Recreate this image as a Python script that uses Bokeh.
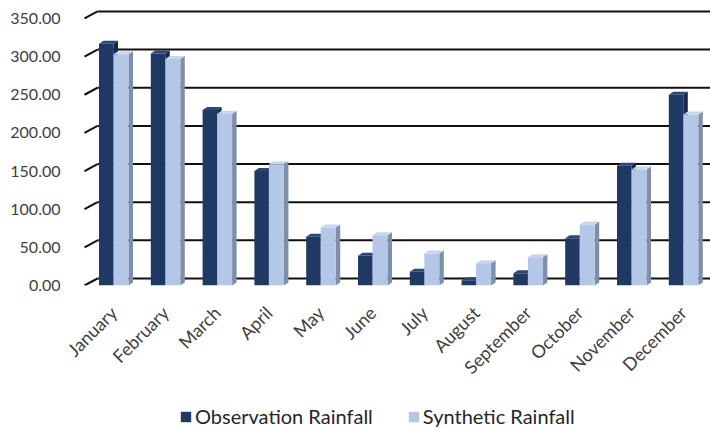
import math
from bokeh.plotting import figure
from bokeh.layouts import column
from bokeh.models import (Range1d, FixedTicker, ColumnDataSource, Legend,
                          LegendItem, NumeralTickFormatter)
from bokeh.embed import file_html
from bokeh.resources import INLINE

# ---------------- data ----------------
months = ["January", "February", "March", "April", "May", "June", "July",
          "August", "September", "October", "November", "December"]
observation = [317, 304, 230, 150, 64, 39, 18, 7, 16, 62, 157, 250]
synthetic = [303, 297, 225, 159, 76, 66, 42, 29, 37, 80, 152, 224]
y_ticks = [0, 50, 100, 150, 200, 250, 300, 350]
series_names = ["Observation Rainfall", "Synthetic Rainfall"]

# ---------------- geometry ----------------
W = 710
LEG_H = 26
H = 428 - LEG_H
LEFT = 83
FRAME_BOTTOM = 285
BOTTOM = H - FRAME_BOTTOM
frame_w = W - LEFT
frame_h = FRAME_BOTTOM
px_x = 51.8          # pixels per category
px_y = 0.763         # pixels per value unit
x_start = -30.0 / px_x
x_end = x_start + frame_w / px_x
y_end = frame_h / px_y

back_dx = 14.0 / px_x      # depth offset of back wall
back_dy = 7.0 / px_y
bar_w_obs = 14.5 / px_x
bar_w_syn = 15.0 / px_x
d_dx = 4.5 / px_x          # bar depth
d_dy = 3.0 / px_y

OBS_FRONT, OBS_TOP, OBS_SIDE = "#1f3864", "#2b4677", "#15284b"
SYN_FRONT, SYN_TOP, SYN_SIDE = "#b4c7e7", "#c9d7ee", "#7f8fa9"
FONT = "Lato"
TXT = "#404040"

p = figure(width=W, height=H, x_range=Range1d(x_start, x_end),
           y_range=Range1d(0, y_end), output_backend="svg",
           toolbar_location=None, min_border_left=LEFT, min_border_right=0,
           min_border_top=0, min_border_bottom=BOTTOM)
p.outline_line_color = None
p.grid.visible = False

# y axis
ya = p.yaxis[0]
ya.ticker = FixedTicker(ticks=y_ticks)
ya.formatter = NumeralTickFormatter(format="0.00")
ya.axis_line_color = None
ya.major_tick_line_color = None
ya.minor_tick_line_color = None
ya.major_label_standoff = 17
ya.major_label_text_font = FONT
ya.major_label_text_font_size = "16px"
ya.major_label_text_color = TXT

# x axis
xa = p.xaxis[0]
xa.ticker = FixedTicker(ticks=list(range(len(months))))
xa.major_label_overrides = {i: m for i, m in enumerate(months)}
xa.major_label_orientation = math.pi / 4
xa.axis_line_color = None
xa.major_tick_line_color = None
xa.minor_tick_line_color = None
xa.major_label_standoff = 18
xa.major_label_text_font = FONT
xa.major_label_text_font_size = "18px"
xa.major_label_text_color = TXT

# back wall gridlines and side-wall diagonals
eps = 1.0 / px_x
n = len(y_ticks)
p.segment(x0=[x_start + back_dx] * n, y0=[v + back_dy for v in y_ticks],
          x1=[x_end] * n, y1=[v + back_dy for v in y_ticks],
          line_color="#111111", line_width=2)
p.segment(x0=[x_start + eps] * n, y0=y_ticks,
          x1=[x_start + back_dx] * n, y1=[v + back_dy for v in y_ticks],
          line_color="#111111", line_width=2)


def bar_faces(lefts, rights, tops):
    side_xs, side_ys, top_xs, top_ys = [], [], [], []
    for l, r, t in zip(lefts, rights, tops):
        side_xs.append([r, r + d_dx, r + d_dx, r])
        side_ys.append([0, d_dy, t + d_dy, t])
        top_xs.append([l, r, r + d_dx, l + d_dx])
        top_ys.append([t, t, t + d_dy, t + d_dy])
    return side_xs, side_ys, top_xs, top_ys


idx = list(range(len(months)))
styles = [(observation, -bar_w_obs, bar_w_obs, OBS_FRONT, OBS_TOP, OBS_SIDE),
          (synthetic, 0.0, bar_w_syn, SYN_FRONT, SYN_TOP, SYN_SIDE)]
for vals, left_off, width, cf, ct, cs in styles:
    lefts = [i + left_off for i in idx]
    rights = [l + width for l in lefts]
    sx, sy, tx, ty = bar_faces(lefts, rights, vals)
    p.patches(xs=sx, ys=sy, fill_color=cs, line_color=None)
    p.patches(xs=tx, ys=ty, fill_color=ct, line_color=None)
    src = ColumnDataSource(dict(x=[l + width / 2 for l in lefts], top=vals))
    p.vbar(x="x", top="top", bottom=0, width=width, source=src,
           fill_color=cf, line_color=None)

# ---------------- legend strip ----------------
lg = figure(width=W, height=LEG_H, x_range=Range1d(0, 1), y_range=Range1d(0, 1),
            output_backend="svg", toolbar_location=None,
            x_axis_location=None, y_axis_location=None,
            min_border_left=0, min_border_right=0, min_border_top=0,
            min_border_bottom=0)
lg.grid.visible = False
lg.outline_line_color = None
items = []
for name, (_, _, _, cf, _, _) in zip(series_names, styles):
    # off-screen sample bar: only its legend swatch is seen
    r = lg.vbar(x=[5], top=[1], width=0.1, fill_color=cf, line_color=None)
    items.append(LegendItem(label=name, renderers=[r]))
# the column aligns this strip's frame with the main frame (left edge at 83px)
legend = Legend(items=items, orientation="horizontal", location=(96, 0),
                padding=0, margin=0, spacing=34, label_standoff=3,
                glyph_width=13, glyph_height=13,
                border_line_color=None, background_fill_alpha=0,
                label_text_font=FONT, label_text_font_size="20px",
                label_text_color="#262626")
lg.add_layout(legend, "center")

layout = column(p, lg, spacing=0)
open("out.html", "w").write(file_html(layout, INLINE))
